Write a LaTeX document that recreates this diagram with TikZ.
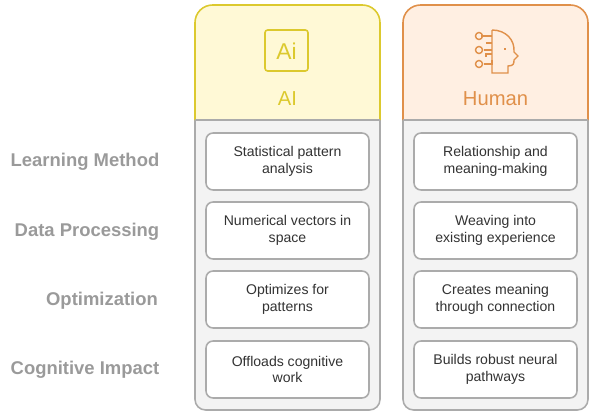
\documentclass[tikz,border=0pt]{standalone}
\usepackage{fontspec}
\setmainfont{Liberation Sans}
\definecolor{ailine}{HTML}{DCC92E}
\definecolor{aifill}{HTML}{FFF9D6}
\definecolor{huline}{HTML}{E0904A}
\definecolor{hufill}{HTML}{FFEFE2}
\definecolor{bodyfill}{HTML}{F3F3F3}
\definecolor{bodyline}{HTML}{ABABAB}
\definecolor{labgray}{HTML}{9A9A9A}
\begin{document}
\begin{tikzpicture}[x=0.02cm,y=-0.02cm,
    cell/.style = {draw=bodyline,fill=white,rounded corners=4pt,line width=0.9pt,
                   minimum width=3.26cm,minimum height=1.14cm,align=center,
                   font=\fontsize{8}{9.6}\selectfont,text=black!80},
    rowlab/.style = {font=\bfseries\fontsize{10.5}{12}\selectfont,text=labgray}]
  \useasboundingbox (0,0) rectangle (600,416);
  % column bodies
  \draw[bodyline,fill=bodyfill,line width=0.9pt,rounded corners=6pt]
      (195,120) -- (195,410) -- (380,410) -- (380,120);
  \draw[bodyline,fill=bodyfill,line width=0.9pt,rounded corners=6pt]
      (403,120) -- (403,410) -- (588,410) -- (588,120);
  % headers
  \draw[ailine,fill=aifill,line width=0.9pt,rounded corners=10pt]
      (195,120) -- (195,5) -- (380,5) -- (380,120);
  \draw[bodyline,line width=0.9pt] (195,120) -- (380,120);
  \draw[huline,fill=hufill,line width=0.9pt,rounded corners=10pt]
      (403,120) -- (403,5) -- (588,5) -- (588,120);
  \draw[bodyline,line width=0.9pt] (403,120) -- (588,120);
  \node[text=ailine,font=\fontsize{11.5}{13}\selectfont] (aiHead) at (287.5,99) {AI};
  \node[text=huline,font=\fontsize{11.5}{13}\selectfont] (huHead) at (495.5,99) {Human};
  % AI icon
  \draw[ailine,line width=0.9pt,rounded corners=1.5pt] (265,30) rectangle (308,71);
  \node[text=ailine,font=\fontsize{13}{15}\selectfont] (aiIcon) at (286.5,51) {Ai};
  % human icon
  \begin{scope}[huline,line width=0.8pt]
    \draw (492,30) -- (492,73) -- (508,73) -- (508,66)
          .. controls (514,66) and (514,63) .. (514,60)
          -- (518,56) -- (514,52)
          .. controls (515,40) and (506,30) .. (492,30);
    \draw (505,48) -- (505,50);
    \draw (481,36) -- (492,36) (486,43) -- (492,43) (484,50) -- (492,50);
    \draw (486,57) -- (486,54) -- (492,54) (484,64) -- (492,64) -- (492,60);
    \draw (479,36) circle (2pt) (479,50) circle (2pt) (479,64) circle (2pt);
  \end{scope}
  % row labels
  \node[rowlab] (labA) at (85,162) {Learning Method};
  \node[rowlab] (labB) at (87,232) {Data Processing};
  \node[rowlab] (labC) at (102,301) {Optimization};
  \node[rowlab] (labD) at (85,370) {Cognitive Impact};
  % cells
  \node[cell] (aiA) at (287.5,161.5) {Statistical pattern\\analysis};
  \node[cell] (aiB) at (287.5,230.5) {Numerical vectors in\\space};
  \node[cell] (aiC) at (287.5,299.5) {Optimizes for\\patterns};
  \node[cell] (aiD) at (287.5,369.5) {Offloads cognitive\\work};
  \node[cell] (huA) at (495.5,161.5) {Relationship and\\meaning-making};
  \node[cell] (huB) at (495.5,230.5) {Weaving into\\existing experience};
  \node[cell] (huC) at (495.5,299.5) {Creates meaning\\through connection};
  \node[cell] (huD) at (495.5,369.5) {Builds robust neural\\pathways};
\end{tikzpicture}
\end{document}
